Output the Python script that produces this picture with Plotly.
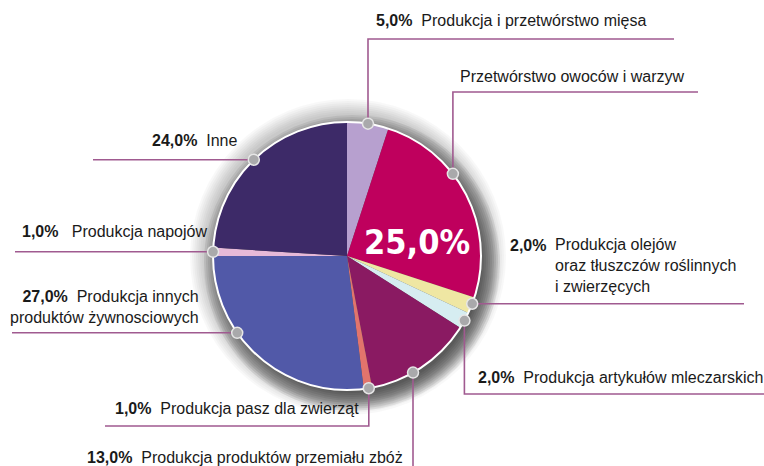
import math
import plotly.graph_objects as go

# ---------------- data ----------------
categories = [
    "Produkcja i przetwórstwo mięsa",
    "Przetwórstwo owoców i warzyw",
    "Produkcja olejów oraz tłuszczów roślinnych i zwierzęcych",
    "Produkcja artykułów mleczarskich",
    "Produkcja produktów przemiału zbóż",
    "Produkcja pasz dla zwierząt",
    "Produkcja innych produktów żywnosciowych",
    "Produkcja napojów",
    "Inne",
]
values = [5.0, 25.0, 2.0, 2.0, 13.0, 1.0, 27.0, 1.0, 24.0]
pct_labels = ["5,0%", "25,0%", "2,0%", "2,0%", "13,0%", "1,0%", "27,0%", "1,0%", "24,0%"]
label_lines = [
    ["Produkcja i przetwórstwo mięsa"],
    ["Przetwórstwo owoców i warzyw"],
    ["Produkcja olejów", "oraz tłuszczów roślinnych", "i zwierzęcych"],
    ["Produkcja artykułów mleczarskich"],
    ["Produkcja produktów przemiału zbóż"],
    ["Produkcja pasz dla zwierząt"],
    ["Produkcja innych", "produktów żywnosciowych"],
    ["Produkcja napojów"],
    ["Inne"],
]
colors = ["#b7a0cf", "#bf005d", "#efe7a3", "#d6edf1", "#8a1a62",
          "#e2746c", "#5159a8", "#e6b9d8", "#3d2a68"]

# ---------------- layout helpers ----------------
W, H = 764, 466
CX, CY, R = 347, 256, 134          # pie centre / radius in pixels
LINE_COL = "#a05a90"
FONT = "Liberation Sans, Arial, sans-serif"

# where along each slice the leader dot sits (fraction of slice)
dot_frac = [0.5, 0.38, 0.4, 0.5, 0.6, 0.4, 0.64, 0.5, 0.49]
# leader line routing: ("vh", turn_y, end_x) | ("h", end_x) | ("v", end_y)
leaders = [
    ("vh", 39, 674),
    ("vh", 92, 698),
    ("h", 744),
    ("vh", 394, 764),
    ("v", 470),
    ("vh", 426, 105),
    ("h", 12),
    ("h", 15),
    ("h", 93),
]
# label placement: (x, y, xanchor) for pct+text block
label_pos = [
    (374, 20, "left"),
    (458, 76, "left"),
    (508, 245, "left"),
    (476, 377, "left"),
    (85, 457, "left"),
    (113, 408, "left"),
    (201, 297, "right"),
    (20, 231, "left"),
    (240, 140, "right"),
]

NB = "\u00a0"


def pie_point(frac_total, radius=R):
    a = 2 * math.pi * frac_total
    return CX + radius * math.sin(a), CY - radius * math.cos(a)


fig = go.Figure()

# invisible cartesian frame: 1 unit = 1 pixel
fig.add_trace(go.Scatter(x=[], y=[], showlegend=False, hoverinfo="skip"))

fig.add_trace(go.Pie(
    values=values,
    labels=categories,
    sort=False,
    direction="clockwise",
    rotation=0,
    marker=dict(colors=colors, line=dict(width=0)),
    textinfo="none",
    hoverinfo="label+percent",
    showlegend=False,
    domain=dict(x=[(CX - R) / W, (CX + R) / W],
                y=[1 - (CY + R) / H, 1 - (CY - R) / H]),
))

shapes = []
# light outer halo
for i in range(8):
    rr = R + 24 - 2 * i
    shapes.append(dict(type="circle", xref="x", yref="y", layer="below",
                       x0=CX + 1 - rr, x1=CX + 1 + rr,
                       y0=CY + 1 - rr, y1=CY + 1 + rr,
                       fillcolor="rgba(0,0,0,0.028)", line=dict(width=0)))
# darker drop shadow, offset to lower right
for i in range(10):
    rr = R + 14 - 2 * i
    ox, oy = 5, 7
    shapes.append(dict(type="circle", xref="x", yref="y", layer="below",
                       x0=CX + ox - rr, x1=CX + ox + rr,
                       y0=CY + oy - rr, y1=CY + oy + rr,
                       fillcolor="rgba(0,0,0,0.075)", line=dict(width=0)))
# white rim
shapes.append(dict(type="circle", xref="x", yref="y", layer="above",
                   x0=CX - R, x1=CX + R, y0=CY - R, y1=CY + R,
                   line=dict(color="white", width=2), fillcolor="rgba(0,0,0,0)"))

annotations = []
total = sum(values)
cum = 0.0
for i, v in enumerate(values):
    f = (cum + dot_frac[i] * v) / total
    cum += v
    dx, dy = pie_point(f)
    kind = leaders[i]
    if kind[0] == "vh":
        pts = [(dx, dy), (dx, kind[1]), (kind[2], kind[1])]
    elif kind[0] == "h":
        pts = [(dx, dy), (kind[1], dy)]
    else:
        pts = [(dx, dy), (dx, kind[1])]
    path = "M " + " L ".join(f"{x:.1f},{y:.1f}" for x, y in pts)
    shapes.append(dict(type="path", xref="x", yref="y", layer="above", path=path,
                       line=dict(color=LINE_COL, width=1.6)))
    rd = 5.5
    shapes.append(dict(type="circle", xref="x", yref="y", layer="above",
                       x0=dx - rd, x1=dx + rd, y0=dy - rd, y1=dy + rd,
                       fillcolor="#a9a9ab", line=dict(color="#e6e6e6", width=1.5)))

    lx, ly, anc = label_pos[i]
    lines = label_lines[i]
    if i == 1:
        text = lines[0]
        annotations.append(dict(xref="x", yref="y", x=lx, y=ly, text=text,
                                xanchor=anc, yanchor="middle", showarrow=False,
                                font=dict(family=FONT, size=16, color="#1a1a1a")))
    elif i == 2:
        annotations.append(dict(xref="x", yref="y", x=lx, y=ly,
                                text=f"<b>{pct_labels[i]}</b>",
                                xanchor="left", yanchor="middle", showarrow=False,
                                font=dict(family=FONT, size=16, color="#1a1a1a")))
        annotations.append(dict(xref="x", yref="y", x=lx + 45, y=ly - 11,
                                text="<br>".join(lines), align="left",
                                xanchor="left", yanchor="top", showarrow=False,
                                font=dict(family=FONT, size=16, color="#1a1a1a")))
    elif i == 6:
        text = f"<b>{pct_labels[i]}</b>{NB}{NB}{lines[0]}<br>{lines[1]}"
        annotations.append(dict(xref="x", yref="y", x=lx, y=ly - 11, text=text,
                                align="right", xanchor="right", yanchor="top",
                                showarrow=False,
                                font=dict(family=FONT, size=16, color="#1a1a1a")))
    else:
        gap = NB * 3 if i == 7 else NB * 2
        text = f"<b>{pct_labels[i]}</b>{gap}{lines[0]}"
        annotations.append(dict(xref="x", yref="y", x=lx, y=ly, text=text,
                                xanchor=anc, yanchor="middle", showarrow=False,
                                font=dict(family=FONT, size=16, color="#1a1a1a")))

# big percentage inside the largest highlighted slice
annotations.append(dict(xref="x", yref="y", x=417, y=242,
                        text=f"<b>{pct_labels[1]}</b>",
                        xanchor="center", yanchor="middle", showarrow=False,
                        font=dict(family="Liberation Sans Narrow, Arial Narrow, DejaVu Sans Condensed, Liberation Sans",
                                  size=34, color="white")))

fig.update_layout(
    width=W, height=H,
    margin=dict(l=0, r=0, t=0, b=0),
    paper_bgcolor="white",
    plot_bgcolor="rgba(0,0,0,0)",
    xaxis=dict(range=[0, W], visible=False, fixedrange=True, domain=[0, 1]),
    yaxis=dict(range=[H, 0], visible=False, fixedrange=True, domain=[0, 1]),
    shapes=shapes,
    annotations=annotations,
    showlegend=False,
)

fig.write_html("out.html", config={"displayModeBar": False},
               post_script="document.body.style.margin='0';document.body.style.padding='0';")
